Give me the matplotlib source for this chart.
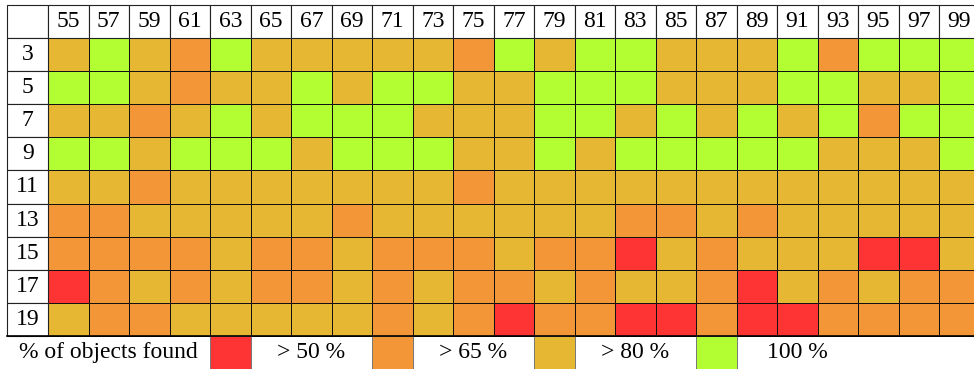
import matplotlib
matplotlib.use('Agg')
import matplotlib.pyplot as plt
import numpy as np
from matplotlib.colors import ListedColormap
from matplotlib.patches import Rectangle

# column / row headers
col_labels = ['55', '57', '59', '61', '63', '65', '67', '69', '71', '73', '75', '77',
              '79', '81', '83', '85', '87', '89', '91', '93', '95', '97', '99']
row_labels = ['3', '5', '7', '9', '11', '13', '15', '17', '19']

# class of each cell: R <=50%, O >50%, Y >65%, G >80%
rows = [
    'YGYOGYYYYYOGYGGYYYGOGGG',
    'GGYOYYGYGGYYGGGYYYGGYYG',
    'YYOYGYGGGYYYGGYGYGYGOGG',
    'GGYGGGYGGGYYGYGGGGGYYYG',
    'YYOYYYYYYYOYYYYYYYYYYYY',
    'OOYYYYYOYYYYYYOOYOYYYYY',
    'OOOOYOOYOOOYOORYOYYYRRY',
    'ROYOYOOYOYOOYOYYORYOYOO',
    'YOOYYYYYOYOROORRORROOOO',
]
classes = 'ROYG'
class_colors = ['#fe3434', '#f39638', '#e5b733', '#b3fe33']

legend_title = '% of objects found'
legend_labels = ['> 50 %', '> 65 %', '> 80 %', '100 %']

grid = np.array([[classes.index(c) for c in r] for r in rows])
n_rows, n_cols = grid.shape

plt.rcParams['font.family'] = 'Liberation Serif'
fs = 17

fig = plt.figure(figsize=(9.74, 3.69), dpi=100)
ax = fig.add_axes([0, 0, 1, 1])
ax.set_xlim(-1.185, 22.86)
ax.set_ylim(10.0, -1.151)
ax.axis('off')

# coloured cells
cmap = ListedColormap(class_colors)
ax.pcolormesh(np.arange(n_cols + 1), np.arange(n_rows + 1), grid, cmap=cmap,
              vmin=-0.5, vmax=3.5, edgecolors='#111111', linewidth=0.7)

# header row and label column
ax.add_patch(Rectangle((-1, -1), 1, 1, facecolor='white', edgecolor='#222222', lw=0.8))
for j, lab in enumerate(col_labels):
    ax.add_patch(Rectangle((j, -1), 1, 1, facecolor='white', edgecolor='#222222', lw=0.8))
    ax.text(j + 0.5, -0.5, lab, ha='center', va='center', fontsize=fs)
for i, lab in enumerate(row_labels):
    ax.add_patch(Rectangle((-1, i), 1, 1, facecolor='white', edgecolor='#222222', lw=0.8))
    ax.text(-0.5, i + 0.5, lab, ha='center', va='center', fontsize=fs)
ax.plot([-1, n_cols], [n_rows, n_rows], color='black', lw=1.2)

# legend row below the table
ax.text(1.5, n_rows + 0.5, legend_title, ha='center', va='center', fontsize=fs)
for k, (color, lab) in enumerate(zip(class_colors, legend_labels)):
    x0 = 4 + 4 * k
    ax.add_patch(Rectangle((x0, n_rows), 1, 1.2, facecolor=color,
                           edgecolor='#777777', lw=0.7, clip_on=True))
    ax.text(x0 + 2.5, n_rows + 0.5, lab, ha='center', va='center', fontsize=fs)

fig.savefig('out.png', dpi=100)
